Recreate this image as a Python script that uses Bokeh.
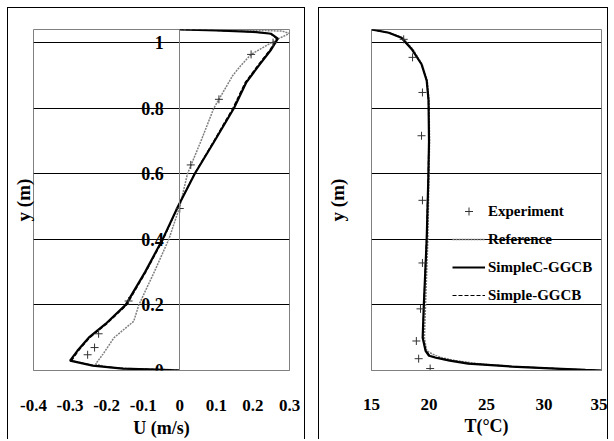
from bokeh.plotting import figure
from bokeh.layouts import row
from bokeh.models import LinearAxis, FixedTicker, Legend, LegendItem
from bokeh.embed import file_html
from bokeh.resources import INLINE

# ---------------- data: velocity profile (left) ----------------
u_ticks = [-0.4, -0.3, -0.2, -0.1, 0.0, 0.1, 0.2, 0.3]
u_tick_labels = ["-0.4", "-0.3", "-0.2", "-0.1", "0", "0.1", "0.2", "0.3"]
y_ticks = [0.0, 0.2, 0.4, 0.6, 0.8, 1.0]
y_tick_labels = ["0", "0.2", "0.4", "0.6", "0.8", "1"]

exp_u = [0.255, 0.195, 0.107, 0.030, 0.000, -0.140, -0.222, -0.233, -0.252]
exp_u_y = [1.000, 0.964, 0.827, 0.627, 0.494, 0.212, 0.112, 0.070, 0.048]

ref_u_y = [1.040, 1.035, 1.028, 1.012, 0.964, 0.930, 0.900, 0.800, 0.700, 0.600, 0.500,
           0.400, 0.300, 0.200, 0.150, 0.100, 0.050, 0.020, 0.010, 0.005, 0.002]
ref_u = [0.150, 0.280, 0.300, 0.270, 0.195, 0.167, 0.145, 0.093, 0.058, 0.021, 0.000,
         -0.030, -0.070, -0.112, -0.126, -0.180, -0.210, -0.230, -0.200, -0.120, 0.000]

simc_u_y = [1.040, 1.037, 1.033, 1.027, 1.012, 0.979, 0.930, 0.879, 0.800, 0.700, 0.600,
            0.500, 0.400, 0.300, 0.200, 0.142, 0.100, 0.060, 0.030, 0.015, 0.006, 0.003, 0.000]
simc_u = [0.000, 0.100, 0.200, 0.250, 0.268, 0.250, 0.216, 0.182, 0.148, 0.095, 0.041,
          -0.005, -0.047, -0.095, -0.148, -0.203, -0.249, -0.280, -0.300, -0.238, -0.156, -0.066, 0.000]

sim_u_y = [1.040, 1.037, 1.033, 1.027, 1.012, 0.979, 0.930, 0.879, 0.800, 0.700, 0.600,
           0.500, 0.400, 0.300, 0.200, 0.142, 0.100, 0.060, 0.030, 0.015, 0.006, 0.003, 0.000]
sim_u = [0.000, 0.100, 0.200, 0.248, 0.265, 0.247, 0.213, 0.179, 0.145, 0.093, 0.040,
         -0.005, -0.045, -0.093, -0.145, -0.200, -0.246, -0.277, -0.296, -0.235, -0.153, -0.064, 0.000]

# ---------------- data: temperature profile (right) ----------------
t_ticks = [15, 20, 25, 30, 35]
t_tick_labels = ["15", "20", "25", "30", "35"]

exp_t = [17.8, 18.57, 19.43, 19.35, 19.43, 19.43, 19.26, 18.9, 19.1, 20.1]
exp_t_y = [1.010, 0.955, 0.848, 0.716, 0.519, 0.328, 0.188, 0.090, 0.036, 0.006]

simc_t_y = [1.040, 1.030, 1.015, 0.980, 0.934, 0.884, 0.824, 0.700, 0.600, 0.400, 0.200,
            0.100, 0.060, 0.045, 0.039, 0.030, 0.021, 0.012, 0.006, 0.002, 0.000]
simc_t = [15.0, 16.5, 17.6, 18.5, 19.35, 19.8, 19.96, 20.0, 19.95, 19.8, 19.55,
          19.45, 19.7, 20.0, 20.6, 21.8, 23.4, 27.2, 31.0, 33.6, 35.0]

ref_t_y = [1.040, 1.030, 1.015, 0.980, 0.934, 0.884, 0.824, 0.700, 0.600, 0.400, 0.200,
           0.100, 0.060, 0.050, 0.040, 0.030, 0.020, 0.012, 0.006, 0.002, 0.000]
ref_t = [15.0, 16.6, 17.7, 18.6, 19.4, 19.85, 20.0, 20.05, 20.0, 19.9, 19.7,
         19.6, 19.8, 20.3, 21.0, 22.3, 24.5, 27.5, 31.0, 33.6, 35.0]

sim_t_y = [1.040, 1.030, 1.015, 0.980, 0.934, 0.884, 0.824, 0.700, 0.600, 0.400, 0.200,
           0.100, 0.060, 0.045, 0.039, 0.030, 0.021, 0.012, 0.006, 0.002, 0.000]
sim_t = [15.0, 16.5, 17.6, 18.5, 19.35, 19.8, 19.95, 19.98, 19.93, 19.78, 19.55,
         19.45, 19.72, 20.1, 20.7, 22.0, 23.6, 27.3, 31.0, 33.6, 35.0]

FONT = "'Liberation Serif'"
GRAY = "#808080"
BOX = {"border-left": "1px solid black", "border-top": "1px solid black",
       "border-right": "1px solid black"}


def style_common(p, lab_standoff, title_standoff):
    p.outline_line_color = GRAY
    p.outline_line_width = 1
    p.xgrid.visible = False
    p.ygrid.ticker = FixedTicker(ticks=y_ticks[1:])
    p.ygrid.grid_line_color = "#000000"
    p.ygrid.grid_line_width = 1
    ax = p.xaxis[0]
    ax.axis_line_color = GRAY
    ax.major_tick_line_color = None
    ax.minor_tick_line_color = None
    ax.major_label_text_font = FONT
    ax.major_label_text_font_style = "bold"
    ax.major_label_text_font_size = "17px"
    ax.major_label_text_color = "black"
    ax.major_label_standoff = lab_standoff
    ax.axis_label_text_font = FONT
    ax.axis_label_text_font_style = "bold"
    ax.axis_label_text_font_size = "18px"
    ax.axis_label_text_color = "black"
    ax.axis_label_standoff = title_standoff


def y_axes(p, loc, title_standoff):
    ay = LinearAxis(fixed_location=loc, ticker=FixedTicker(ticks=y_ticks),
                    major_label_overrides=dict(zip(y_ticks, y_tick_labels)))
    ay.axis_line_color = GRAY
    ay.major_tick_line_color = None
    ay.minor_tick_line_color = None
    ay.major_label_text_font = FONT
    ay.major_label_text_font_style = "bold"
    ay.major_label_text_font_size = "18px"
    ay.major_label_text_color = "black"
    ay.major_label_standoff = 10
    p.add_layout(ay, "left")
    at = LinearAxis(ticker=FixedTicker(ticks=[]), axis_label="y (m)")
    at.axis_line_color = None
    at.major_tick_line_color = None
    at.minor_tick_line_color = None
    at.axis_label_text_font = FONT
    at.axis_label_text_font_style = "bold"
    at.axis_label_text_font_size = "19px"
    at.axis_label_text_color = "black"
    at.axis_label_standoff = title_standoff
    p.add_layout(at, "left")


# ---------------- left figure ----------------
p1 = figure(width=298, height=432, x_range=(-0.4, 0.3), y_range=(0, 1.04),
            y_axis_location=None, output_backend="svg", toolbar_location=None,
            min_border_left=25, min_border_right=17, min_border_top=21, min_border_bottom=70,
            x_axis_label="U (m/s)")
p1.styles = BOX
style_common(p1, 23, 4)
p1.xaxis[0].ticker = FixedTicker(ticks=u_ticks)
p1.xaxis[0].major_label_overrides = dict(zip(u_ticks, u_tick_labels))
y_axes(p1, 0, 0)

p1.line(ref_u, ref_u_y, line_color=GRAY, line_width=1.5, line_dash="2 1")
p1.line(sim_u, sim_u_y, line_color="black", line_width=1.2, line_dash="4 2")
p1.line(simc_u, simc_u_y, line_color="black", line_width=2.2)
p1.scatter(exp_u, exp_u_y, marker="cross", size=8, line_color="#333333", line_width=1)

# ---------------- right figure ----------------
p2 = figure(width=290, height=432, x_range=(15, 35), y_range=(0, 1.04),
            y_axis_location=None, output_backend="svg", toolbar_location=None,
            min_border_left=52, min_border_right=8, min_border_top=16, min_border_bottom=67,
            x_axis_label="T(°C)")
p2.styles = BOX
style_common(p2, 22, 3)
p2.xaxis[0].ticker = FixedTicker(ticks=t_ticks)
p2.xaxis[0].major_label_overrides = dict(zip(t_ticks, t_tick_labels))
y_axes(p2, 15, 24)

r_ref = p2.line(ref_t, ref_t_y, line_color=GRAY, line_width=1.5, line_dash="2 1")
r_sim = p2.line(sim_t, sim_t_y, line_color="black", line_width=1.2, line_dash="4 2")
r_simc = p2.line(simc_t, simc_t_y, line_color="black", line_width=2.2)
r_exp = p2.scatter(exp_t, exp_t_y, marker="cross", size=8, line_color="#333333", line_width=1)

legend = Legend(items=[
    LegendItem(label="Experiment", renderers=[r_exp]),
    LegendItem(label="Reference", renderers=[r_ref]),
    LegendItem(label="SimpleC-GGCB", renderers=[r_simc]),
    LegendItem(label="Simple-GGCB", renderers=[r_sim]),
], location=(81, 65))
legend.background_fill_alpha = 0
legend.border_line_color = None
legend.padding = 0
legend.margin = 0
legend.spacing = 8
legend.glyph_width = 33
legend.glyph_height = 20
legend.label_height = 20
legend.label_standoff = 3
legend.label_text_font = FONT
legend.label_text_font_style = "bold"
legend.label_text_font_size = "15px"
legend.label_text_color = "black"
p2.add_layout(legend)

layout = row(p1, p2, spacing=13, margin=(7, 0, 0, 7))

open("out.html", "w").write(file_html(layout, INLINE))
